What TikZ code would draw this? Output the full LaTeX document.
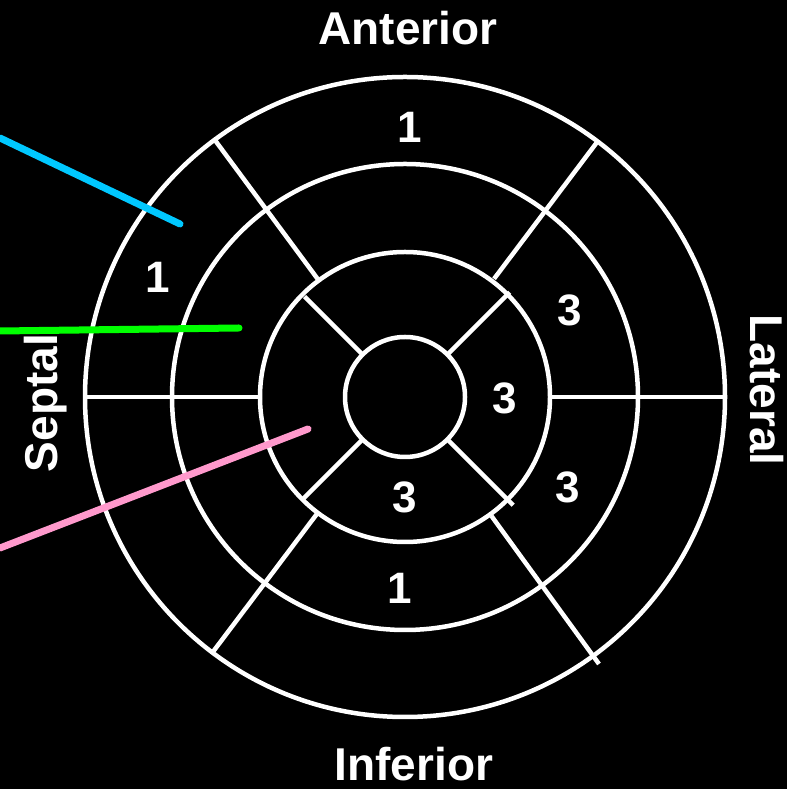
\documentclass[tikz,border=0pt]{standalone}
\usepackage{fontspec}
\setmainfont{Liberation Sans}
\usetikzlibrary{positioning}

\definecolor{pointcyan}{HTML}{00C8FF}
\definecolor{pointgreen}{HTML}{00FF00}
\definecolor{pointpink}{HTML}{FF99CC}

\begin{document}
\begin{tikzpicture}[
    x=1pt, y=1pt,
    ring/.style={draw=white, line width=4.5pt},
    divider/.style={draw=white, line width=4.5pt},
    wall/.style={text=white, font=\fontsize{46}{50}\selectfont\bfseries, inner sep=0pt, anchor=base},
    score/.style={text=white, font=\fontsize{44}{48}\selectfont\bfseries, inner sep=0pt},
    pointer/.style={line width=7pt, line cap=round}
]

% Background and frame
\fill[black] (0,0) rectangle (787,789);
\useasboundingbox (0,0) rectangle (787,789);

\coordinate (c) at (405,392);

% Rings: basal, mid, apical, apex
\foreach \r in {320,233,145,60}
    \draw[ring] (c) circle[radius=\r];

% Basal and mid dividers (six segments)
\foreach \a/\rin/\rout in {0/147/318, 53/148/320, 126.5/143/320, 180/143/322, 233/145/320, 306/147/330}
    \draw[divider] ([shift={(\a:\rin)}]c) -- ([shift={(\a:\rout)}]c);

% Apical dividers (four segments)
\foreach \a/\rout in {45/148, 135/142, 225/146, 315/153}
    \draw[divider] ([shift={(\a:60)}]c) -- ([shift={(\a:\rout)}]c);

% Wall names
\node[wall] (anterior) at (408,744) {Anterior};
\node[wall] (inferior) at (414,9) {Inferior};
\node[wall, rotate=90] (septal) at (57,386) {Septal};
\node[wall, rotate=-90] (lateral) at (750,399) {Lateral};

% Segment scores
\node[score] (basant) at (410,662) {1};
\node[score] (basantsep) at (158,512) {1};
\node[score] (midantlat) at (570,479) {3};
\node[score] (apilat) at (505,391) {3};
\node[score] (midinflat) at (568,302) {3};
\node[score] (apiinf) at (405,292) {3};
\node[score] (midinf) at (400,201) {1};

% Pointers
\coordinate (cyanstart) at (0,651);
\coordinate (cyanend) at (180,565);
\coordinate (greenstart) at (0,458);
\coordinate (greenend) at (239,461);
\coordinate (pinkstart) at (0,241);
\coordinate (pinkend) at (308,360);
\draw[pointer, pointcyan] (cyanstart) -- (cyanend);
\draw[pointer, pointgreen] (greenstart) -- (greenend);
\draw[pointer, pointpink] (pinkstart) -- (pinkend);

\end{tikzpicture}
\end{document}
